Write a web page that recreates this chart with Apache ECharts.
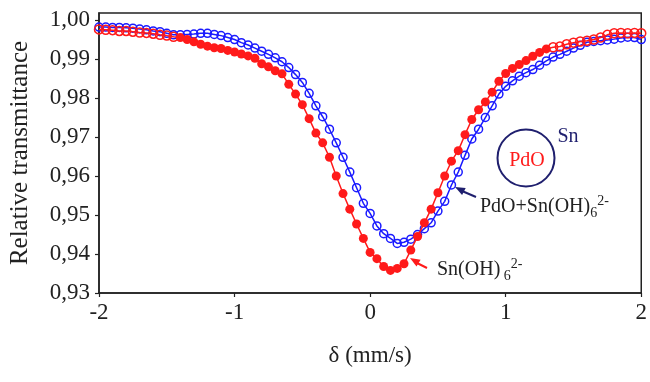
<!DOCTYPE html>
<html>
<head>
<meta charset="utf-8">
<script src="https://cdn.jsdelivr.net/npm/echarts@6/dist/echarts.min.js"></script>
<style>
  html, body { margin: 0; padding: 0; background: #fff; }
  #chart { width: 650px; height: 382px; }
</style>
</head>
<body>
<div id="chart"></div>
<script>
// velocity grid (mm/s), one value per measured channel
const velocity = [
  -2.00, -1.95, -1.90, -1.85, -1.80, -1.75, -1.70, -1.65, -1.60, -1.55,
  -1.50, -1.45, -1.40, -1.35, -1.30, -1.25, -1.20, -1.15, -1.10, -1.05,
  -1.00, -0.95, -0.90, -0.85, -0.80, -0.75, -0.70, -0.65, -0.60, -0.55,
  -0.50, -0.45, -0.40, -0.35, -0.30, -0.25, -0.20, -0.15, -0.10, -0.05,
   0.00,  0.05,  0.10,  0.15,  0.20,  0.25,  0.30,  0.35,  0.40,  0.45,
   0.50,  0.55,  0.60,  0.65,  0.70,  0.75,  0.80,  0.85,  0.90,  0.95,
   1.00,  1.05,  1.10,  1.15,  1.20,  1.25,  1.30,  1.35,  1.40,  1.45,
   1.50,  1.55,  1.60,  1.65,  1.70,  1.75,  1.80,  1.85,  1.90,  1.95,
   2.00
];

// Sn(OH)6 2- (red, filled)
const snOH6 = [
  0.9976, 0.9975, 0.9974, 0.9972, 0.9972, 0.9970, 0.9968, 0.9967, 0.9965, 0.9962,
  0.9960, 0.9957, 0.9955, 0.9950, 0.9944, 0.9938, 0.9933, 0.9929, 0.9927, 0.9922,
  0.9918, 0.9913, 0.9908, 0.9902, 0.9888, 0.9880, 0.9870, 0.9862, 0.9835, 0.9810,
  0.9783, 0.9747, 0.9710, 0.9685, 0.9648, 0.9600, 0.9555, 0.9515, 0.9477, 0.9440,
  0.9404, 0.9388, 0.9368, 0.9358, 0.9363, 0.9375, 0.9410, 0.9445, 0.9480, 0.9515,
  0.9557, 0.9600, 0.9638, 0.9665, 0.9706, 0.9745, 0.9770, 0.9790, 0.9815, 0.9843,
  0.9863, 0.9876, 0.9886, 0.9896, 0.9907, 0.9917, 0.9926, 0.9930, 0.9932, 0.9938,
  0.9942, 0.9945, 0.9947, 0.9950, 0.9955, 0.9962, 0.9966, 0.9967, 0.9966, 0.9967,
  0.9966
];

// PdO + Sn(OH)6 2- (blue, open)
const pdoSnOH6 = [
  0.9982, 0.9982, 0.9981, 0.9981, 0.9980, 0.9979, 0.9977, 0.9975, 0.9972, 0.9970,
  0.9966, 0.9962, 0.9962, 0.9963, 0.9964, 0.9966, 0.9966, 0.9963, 0.9960, 0.9955,
  0.9950, 0.9942, 0.9936, 0.9928, 0.9920, 0.9912, 0.9903, 0.9893, 0.9878, 0.9860,
  0.9840, 0.9812, 0.9780, 0.9752, 0.9720, 0.9685, 0.9648, 0.9610, 0.9570, 0.9530,
  0.9504, 0.9472, 0.9452, 0.9440, 0.9427, 0.9430, 0.9438, 0.9450, 0.9465, 0.9480,
  0.9510, 0.9535, 0.9577, 0.9610, 0.9653, 0.9695, 0.9720, 0.9750, 0.9780, 0.9810,
  0.9830, 0.9844, 0.9856, 0.9865, 0.9873, 0.9884, 0.9895, 0.9905, 0.9912, 0.9920,
  0.9928, 0.9935, 0.9943, 0.9945, 0.9947, 0.9949, 0.9951, 0.9954, 0.9956, 0.9955,
  0.9950
];

const xTicks = [-2, -1, 0, 1, 2];
const yTicks = [0.93, 0.94, 0.95, 0.96, 0.97, 0.98, 0.99, 1.00];

const serif = '"Liberation Serif", "DejaVu Serif", serif';
const red = '#ff1a1a';
const blue = '#1a1aff';
const navy = '#1f1f6e';
const ink = '#222';

// red markers are filled only across the absorption region
const redData = velocity.map((v, i) => {
  if (v >= -1.4 && v <= 1.3) return [v, snOH6[i]];
  return {
    value: [v, snOH6[i]],
    itemStyle: { color: 'rgba(0,0,0,0)', borderColor: red, borderWidth: 1.5 }
  };
});
const blueData = velocity.map((v, i) => [v, pdoSnOH6[i]]);

const chart = echarts.init(document.getElementById('chart'));

const subRich = {
  m: { fontFamily: serif, fontSize: 20, fill: ink, lineHeight: 26, verticalAlign: 'middle' },
  s: { fontFamily: serif, fontSize: 14, fill: ink, lineHeight: 14, verticalAlign: 'bottom' },
  p: { fontFamily: serif, fontSize: 14, fill: ink, lineHeight: 14, verticalAlign: 'top' }
};

chart.setOption({
  animation: false,
  backgroundColor: '#fff',
  grid: {
    left: 97, right: 8, top: 13, bottom: 89,
    show: true, borderColor: ink, borderWidth: 1.5
  },
  xAxis: {
    type: 'value',
    min: -2, max: 2, interval: 1,
    name: 'δ (mm/s)',
    nameLocation: 'middle',
    nameGap: 51,
    nameTextStyle: { fontFamily: serif, fontSize: 23, color: ink },
    axisLine: { onZero: false, lineStyle: { color: ink, width: 1.5 } },
    axisTick: { length: 4, lineStyle: { color: ink, width: 1.2 }, customValues: xTicks },
    axisLabel: { fontFamily: serif, fontSize: 23, color: ink, margin: 8, customValues: xTicks },
    splitLine: { show: false }
  },
  yAxis: {
    type: 'value',
    min: 0.93, max: 1.0018,
    name: 'Relative transmittance',
    nameLocation: 'middle',
    nameGap: 66,
    nameTextStyle: { fontFamily: serif, fontSize: 25, color: ink },
    axisLine: { onZero: false, lineStyle: { color: ink, width: 1.5 } },
    axisTick: { length: 4, lineStyle: { color: ink, width: 1.2 }, customValues: yTicks },
    axisLabel: {
      fontFamily: serif, fontSize: 23, color: ink, margin: 9,
      customValues: yTicks,
      formatter: v => v.toFixed(2).replace('.', ',')
    },
    splitLine: { show: false }
  },
  series: [
    {
      name: 'PdO+Sn(OH)6 2-',
      type: 'line',
      data: blueData,
      color: blue,
      symbol: 'circle',
      symbolSize: 8,
      lineStyle: { color: blue, width: 1.5 },
      itemStyle: { color: 'rgba(0,0,0,0)', borderColor: blue, borderWidth: 1.5 },
      z: 2
    },
    {
      name: 'Sn(OH)6 2-',
      type: 'line',
      data: redData,
      color: red,
      symbol: 'circle',
      symbolSize: 9,
      lineStyle: { color: red, width: 1.5 },
      itemStyle: { color: red },
      z: 3
    }
  ],
  graphic: [
    { type: 'circle', shape: { cx: 526, cy: 158, r: 28.5 }, style: { fill: 'none', stroke: navy, lineWidth: 2 } },
    { type: 'text', x: 527, y: 161, style: { text: 'PdO', fontFamily: serif, fontSize: 20, fill: red, align: 'center', verticalAlign: 'middle' } },
    { type: 'text', x: 568, y: 137, style: { text: 'Sn', fontFamily: serif, fontSize: 20, fill: navy, align: 'center', verticalAlign: 'middle' } },
    // blue arrow
    { type: 'line', shape: { x1: 462, y1: 191, x2: 476, y2: 197 }, style: { stroke: navy, lineWidth: 2 } },
    { type: 'polygon', shape: { points: [[455, 187], [465.7, 187.9], [462.1, 195.1]] }, style: { fill: navy } },
    {
      type: 'text', x: 480, y: 207,
      style: { text: '{m|PdO+Sn(OH)}{s|6}{p|2-}', align: 'left', verticalAlign: 'middle', fill: ink, rich: subRich }
    },
    // red arrow
    { type: 'line', shape: { x1: 417, y1: 263, x2: 427, y2: 268 }, style: { stroke: red, lineWidth: 2 } },
    { type: 'polygon', shape: { points: [[410, 258], [420.6, 259.7], [416.5, 266.5]] }, style: { fill: red } },
    {
      type: 'text', x: 437, y: 270,
      style: { text: '{m|Sn(OH)}{s| 6}{p|2-}', align: 'left', verticalAlign: 'middle', fill: ink, rich: subRich }
    }
  ]
});
</script>
</body>
</html>
